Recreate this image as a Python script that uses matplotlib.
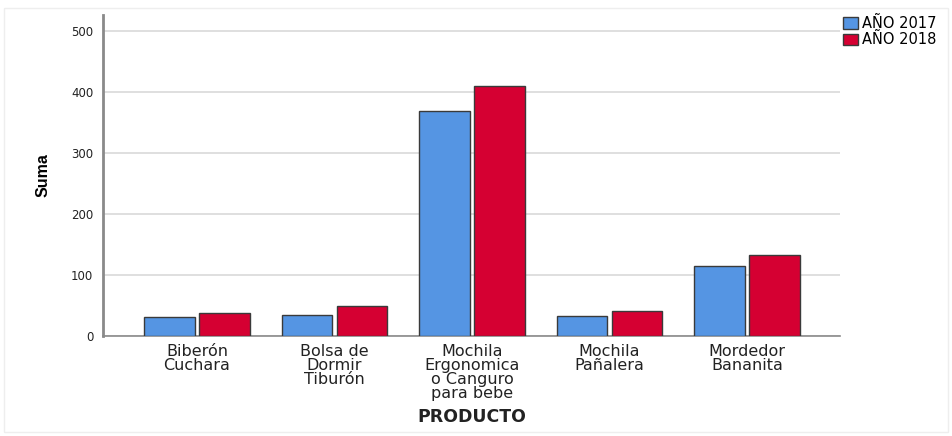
import matplotlib.pyplot as plt
import numpy as np
from matplotlib.patches import Rectangle

productos = ["Biberón\nCuchara", "Bolsa de\nDormir\nTiburón",
             "Mochila\nErgonomica\no Canguro\npara bebe",
             "Mochila\nPañalera", "Mordedor\nBananita"]
anio_2017 = [31, 34, 368, 33, 115]
anio_2018 = [38, 49, 410, 41, 132]
series = ["AÑO 2017", "AÑO 2018"]

azul = "#5595e3"
rojo = "#d50032"

plt.rcParams['font.family'] = ['DejaVu Sans']

fig = plt.figure(figsize=(9.53, 4.36), dpi=100)
ax = fig.add_axes([103/953, 1-336/436, (840-103)/953, (336-15)/436])

x = np.arange(len(productos))
w = 0.37
ax.bar(x - 0.2, anio_2017, w, color=azul, edgecolor="#3a3a3a", linewidth=1, label=series[0], zorder=3)
ax.bar(x + 0.2, anio_2018, w, color=rojo, edgecolor="#3a3a3a", linewidth=1, label=series[1], zorder=3)

ax.set_xlim(-0.684, 4.676)
ax.set_ylim(0, 526)
ax.set_yticks([0, 100, 200, 300, 400, 500])
ax.yaxis.grid(True, color="#d9d9d9", linewidth=1.2, zorder=0)
ax.set_axisbelow(True)

ax.set_xticks(x)
ax.set_xticklabels(productos, fontsize=11.5, linespacing=0.9, color="#222222", multialignment="center", va="top")
ax.tick_params(axis="x", length=0, pad=6)
ax.tick_params(axis="y", length=0, pad=7, labelsize=8.5, labelcolor="#222222")

for s in ["top", "right"]:
    ax.spines[s].set_visible(False)
ax.spines["left"].set_color("#8a8a8a")
ax.spines["left"].set_linewidth(2)
ax.spines["bottom"].set_color("#8a8a8a")
ax.spines["bottom"].set_linewidth(1.2)

fig.text(43/953, 1-175/436, "Suma", rotation=90, ha="center", va="center",
         fontsize=11.5, fontweight="bold", family=["Liberation Sans"])
fig.text(472/953, 1-417/436, "PRODUCTO", ha="center", va="center",
         fontsize=12.5, fontweight="bold", color="#222222")

fig.legend(loc="upper left", bbox_to_anchor=(843/953, 1-16/436), frameon=False,
           fontsize=10.5, handlelength=1.0, handleheight=0.8, handletextpad=0.3,
           labelspacing=0.1, borderpad=0, borderaxespad=0)

fig.patches.append(Rectangle((4/953, 4/436), 944/953, 1-12/436, transform=fig.transFigure,
                             fill=False, edgecolor="#eeeeee", linewidth=1))

fig.savefig("out.png", dpi=100)
